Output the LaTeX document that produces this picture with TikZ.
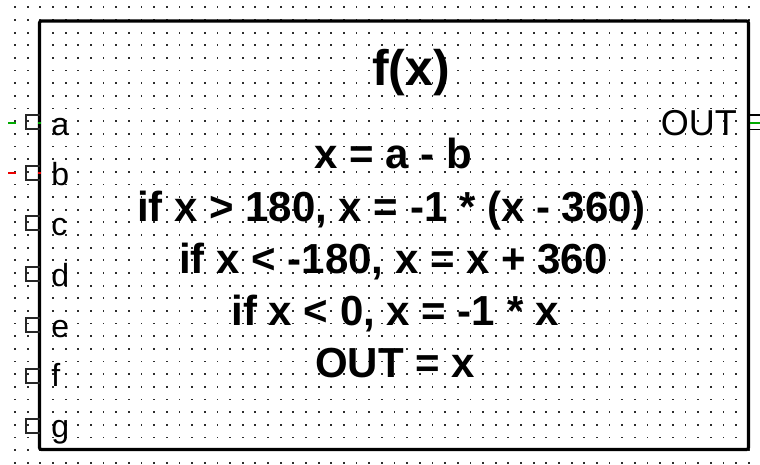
\documentclass[tikz,border=0pt]{standalone}
\usepackage{fontspec}
\setmainfont{Liberation Sans}
\definecolor{wgreen}{RGB}{0,170,0}
\definecolor{wred}{RGB}{235,0,0}
\definecolor{dotc}{RGB}{45,45,45}
\begin{document}
\begin{tikzpicture}[x=0.75pt,y=-0.75pt,
  griddot/.style={fill=dotc,draw=none},
  blockbox/.style={draw=black,line width=2.4pt,rounded corners=1.5pt,inner sep=0pt,
    minimum width=531.75pt,minimum height=321.4pt},
  pinline/.style={draw=black!85,line width=1pt},
  lbl/.style={inner sep=0pt,anchor=base west,font=\fontsize{24}{24}\selectfont},
  outlbl/.style={inner sep=0pt,anchor=base east,font=\fontsize{27}{27}\selectfont},
  codeline/.style={inner sep=0pt,anchor=base,font=\bfseries\fontsize{31.5}{31.5}\selectfont},
  titletext/.style={inner sep=0pt,anchor=base,font=\bfseries\fontsize{37.5}{37.5}\selectfont},
  stub/.style={line width=1.5pt}]
\useasboundingbox (0,0) rectangle (760,464);
\fill[white] (0,0) rectangle (760,464);
% grid dots
\foreach \i in {0,...,58}
  \foreach \j in {0,...,36}
    \fill[griddot] ({15+12.65*\i-0.9},{7.3+12.65*\j-0.9}) rectangle ++(1.8,1.8);
% block
\node[blockbox] (blk) at (394,235.25) {};
% input pins
\foreach \yy/\bl/\t in {122/135/a,173/185/b,223/235/c,274/286/d,325/337/e,376/386/f,426/437/g}{
  \draw[pinline] (39.5,\yy-7) -- (26,\yy-7) -- (26,\yy+7) -- (39.5,\yy+7);
  \node[lbl] (lab\t) at (51,\bl) {\t};
}
% colored stubs
\draw[stub,wgreen] (8,122.5) -- (16,122.5);
\draw[stub,wgreen] (38,122.5) -- (41,122.5);
\draw[stub,wred] (8,172.5) -- (16,172.5);
\draw[stub,wred] (38,172.5) -- (41,172.5);
% output pin
\draw[line width=0.8pt,black] (750,115) -- (760,115) (750,129.5) -- (760,129.5);
\draw[stub,wgreen] (750,122.5) -- (760,122.5);
\node[outlbl] (outl) at (737,135) {OUT};
% texts
\node[titletext] (title) at (411,85) {f(x)};
\node[codeline] (l1) at (393.5,168) {x = a - b};
\node[codeline] (l2) at (391.5,221) {if x > 180, x = -1 * (x - 360)};
\node[codeline] (l3) at (393.5,273) {if x < -180, x = x + 360};
\node[codeline] (l4) at (395,325) {if x < 0, x = -1 * x};
\node[codeline] (l5) at (395,377) {OUT = x};
\end{tikzpicture}
\end{document}
